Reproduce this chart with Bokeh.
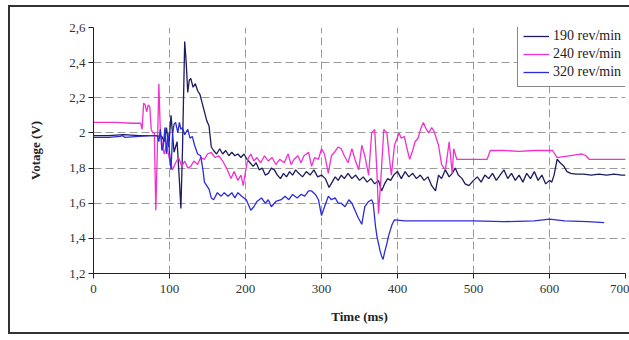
from bokeh.plotting import figure
from bokeh.models import Range1d, FixedTicker, CustomJSTickFormatter
from bokeh.embed import file_html
from bokeh.resources import INLINE

# ---- data ----
t_190 = [0, 20, 40, 60, 80, 90, 93, 96, 99, 102, 106, 110, 113, 115, 117, 120, 122, 124, 126, 128,
         131, 134, 137, 140, 143, 146, 149, 152, 155, 158, 162, 166, 170, 174, 178, 182, 186, 190,
         194, 198, 202, 206, 210, 214, 218, 222, 226, 230, 234, 238, 242, 246, 250, 254, 258, 262,
         266, 270, 275, 280, 285, 290, 295, 300, 305, 310, 314, 318, 322, 326, 330, 335, 340, 345,
         350, 355, 360, 365, 370, 375, 379, 383, 387, 391, 395, 400, 405, 410, 415, 420, 425, 430,
         435, 440, 445, 450, 454, 458, 463, 468, 472, 476, 480, 485, 489, 494, 500, 505, 510, 515,
         520, 525, 530, 535, 540, 545, 550, 555, 560, 565, 570, 575, 580, 585, 590, 595, 600, 603,
         606, 610, 614, 619, 623, 628, 635, 645, 655, 665, 675, 685, 695, 700]
v_190 = [1.985, 1.985, 1.99, 1.985, 1.985, 1.98, 1.95, 2.03, 1.92, 2.10, 1.89, 1.95, 1.73, 1.57, 1.89,
         2.52, 2.40, 2.23, 2.30, 2.31, 2.26, 2.28, 2.24, 2.22, 2.17, 2.12, 2.07, 2.04, 1.92, 1.90,
         1.88, 1.91, 1.88, 1.90, 1.87, 1.89, 1.87, 1.88, 1.86, 1.88, 1.85, 1.83, 1.81, 1.83, 1.79,
         1.80, 1.76, 1.77, 1.80, 1.79, 1.76, 1.74, 1.77, 1.75, 1.78, 1.76, 1.79, 1.77, 1.75, 1.78,
         1.76, 1.79, 1.75, 1.76, 1.74, 1.69, 1.72, 1.75, 1.73, 1.76, 1.74, 1.77, 1.74, 1.76, 1.73,
         1.75, 1.72, 1.74, 1.71, 1.73, 1.67, 1.71, 1.74, 1.73, 1.76, 1.78, 1.74, 1.78, 1.75, 1.77,
         1.74, 1.76, 1.73, 1.75, 1.70, 1.67, 1.76, 1.74, 1.79, 1.75, 1.77, 1.80, 1.76, 1.74, 1.71,
         1.70, 1.73, 1.75, 1.72, 1.76, 1.74, 1.77, 1.73, 1.76, 1.79, 1.74, 1.77, 1.73, 1.76, 1.72,
         1.77, 1.74, 1.78, 1.73, 1.76, 1.71, 1.73, 1.72, 1.76, 1.85, 1.83, 1.81, 1.78, 1.77, 1.765,
         1.765, 1.76, 1.765, 1.76, 1.765, 1.76, 1.76]

t_240 = [0, 30, 50, 62, 64, 66, 68, 70, 72, 74, 76, 78, 80, 82, 84, 86, 88, 90, 93, 96, 100, 104,
         108, 112, 116, 120, 124, 128, 132, 137, 141, 146, 150, 155, 160, 165, 170, 175, 181, 185,
         190, 194, 197, 200, 203, 207, 211, 215, 220, 225, 230, 235, 240, 245, 251, 256, 260, 264,
         269, 273, 277, 283, 287, 291, 296, 300, 304, 309, 313, 317, 322, 326, 330, 335, 340, 344,
         349, 353, 357, 362, 366, 370, 373, 375, 378, 382, 386, 390, 392, 396, 402, 405, 409, 412,
         416, 420, 423, 427, 431, 434, 438, 441, 445, 448, 451, 454, 458, 463, 468, 472, 474, 478,
         482, 500, 518, 522, 540, 560, 580, 604, 610, 618, 626, 634, 643, 648, 652, 670, 700]
v_240 = [2.06, 2.06, 2.055, 2.055, 2.02, 2.17, 2.16, 2.12, 2.16, 2.15, 2.02, 2.0, 2.0, 1.56, 1.9,
         2.28, 2.0, 1.95, 1.88, 1.93, 1.85, 1.79, 1.83, 1.86, 1.81, 1.84, 1.80, 1.81, 1.84, 1.82,
         1.86, 1.85, 1.88, 1.89, 1.86, 1.87, 1.84, 1.80, 1.74, 1.78, 1.73, 1.76, 1.70, 1.78, 1.85,
         1.88, 1.84, 1.86, 1.83, 1.87, 1.84, 1.86, 1.82, 1.85, 1.83, 1.88, 1.82, 1.85, 1.87, 1.83,
         1.87, 1.89, 1.81, 1.86, 1.85, 1.91, 1.88, 1.77, 1.87, 1.89, 1.92, 1.91, 1.87, 1.83, 1.91,
         1.85, 1.79, 1.93, 1.87, 1.76, 2.0, 2.02, 1.77, 1.54, 1.73, 2.02, 2.0, 1.83, 1.76, 1.93,
         2.0, 1.97, 1.98, 1.92, 1.85, 1.90, 1.95, 1.97, 2.03, 2.06, 2.02, 2.0, 2.03, 2.01, 1.97,
         1.93, 1.82, 1.79, 1.95, 1.77, 1.91, 1.85, 1.85, 1.85, 1.85, 1.90, 1.90, 1.895, 1.90, 1.90,
         1.86, 1.865, 1.87, 1.875, 1.88, 1.87, 1.85, 1.85, 1.85]

t_320 = [0, 20, 35, 38, 41, 60, 75, 84, 86, 88, 90, 92, 94, 96, 98, 100, 102, 104, 106, 108, 111,
         113, 115, 117, 120, 124, 127, 130, 133, 137, 141, 144, 146, 149, 152, 155, 158, 163, 168,
         172, 177, 182, 186, 190, 195, 201, 204, 207, 211, 215, 221, 226, 230, 234, 240, 247, 252,
         257, 262, 268, 273, 278, 283, 287, 292, 296, 300, 304, 309, 313, 318, 322, 326, 331, 336,
         340, 344, 348, 353, 357, 362, 366, 368, 371, 373, 375, 377, 379, 381, 383, 386, 388, 390,
         393, 396, 410, 450, 500, 540, 580, 600, 620, 650, 672]
v_320 = [1.975, 1.975, 1.98, 1.985, 1.975, 1.98, 1.985, 1.985, 1.95, 2.02, 1.90, 1.93, 2.03, 1.88,
         2.0, 1.89, 1.79, 1.99, 2.05, 2.06, 2.0, 2.06, 2.02, 2.03, 1.99, 2.02, 1.97, 1.98, 1.93,
         1.88, 1.87, 1.79, 1.72, 1.70, 1.68, 1.63, 1.62, 1.66, 1.64, 1.66, 1.64, 1.66, 1.63, 1.66,
         1.64, 1.62, 1.59, 1.56, 1.58, 1.61, 1.63, 1.60, 1.62, 1.58, 1.61, 1.62, 1.64, 1.62, 1.65,
         1.63, 1.65, 1.64, 1.67, 1.67, 1.65, 1.62, 1.53, 1.58, 1.64, 1.62, 1.63, 1.60, 1.60, 1.58,
         1.62, 1.60, 1.56, 1.52, 1.48, 1.58, 1.61, 1.62, 1.60, 1.47, 1.41, 1.37, 1.33, 1.30, 1.28,
         1.32, 1.37, 1.41, 1.44, 1.48, 1.505, 1.50, 1.50, 1.50, 1.495, 1.50, 1.51, 1.50, 1.495, 1.49]

x_ticks = [0, 100, 200, 300, 400, 500, 600, 700]
y_ticks = [1.2, 1.4, 1.6, 1.8, 2.0, 2.2, 2.4, 2.6]
labels = ["190 rev/min", "240 rev/min", "320 rev/min"]
colors = ["#1c1c5e", "#f030d0", "#2c2cd8"]

SERIF = "Times New Roman"

p = figure(width=621, height=329, output_backend="svg", toolbar_location=None,
           x_range=Range1d(0, 700), y_range=Range1d(1.2, 2.6),
           min_border_left=83, min_border_right=6, min_border_top=20, min_border_bottom=63)
p.styles = {"margin-left": "8px", "margin-top": "5px",
            "border-left": "2px solid #333", "border-top": "2px solid #333",
            "border-bottom": "2px solid #333"}
p.outline_line_color = None
p.background_fill_color = "white"
p.border_fill_color = "white"

for t, v, lab, c in zip([t_190, t_240, t_320], [v_190, v_240, v_320], labels, colors):
    p.line(t, v, line_color=c, line_width=1.3, legend_label=lab)

p.xaxis.ticker = FixedTicker(ticks=x_ticks)
p.yaxis.ticker = FixedTicker(ticks=y_ticks)
p.yaxis.formatter = CustomJSTickFormatter(
    code="var s = Number(tick.toFixed(1)).toString(); return s.replace('.', ',');")

for ax in (p.xaxis[0], p.yaxis[0]):
    ax.axis_line_color = "#222"
    ax.axis_line_width = 1
    ax.major_tick_line_color = "#222"
    ax.major_tick_in = 0
    ax.major_tick_out = 5
    ax.minor_tick_line_color = None
    ax.major_label_text_font = SERIF
    ax.major_label_text_font_size = "13px"
    ax.major_label_text_color = "#333"
    ax.axis_label_text_font = SERIF
    ax.axis_label_text_font_size = "13px"
    ax.axis_label_text_font_style = "bold"
    ax.axis_label_text_color = "#222"

p.xaxis.axis_label = "Time (ms)"
p.yaxis.axis_label = "Votage (V)"
p.xaxis.major_label_standoff = 6
p.xaxis.axis_label_standoff = 13
p.yaxis.major_label_standoff = 3
p.yaxis.axis_label_standoff = 23

p.xgrid.grid_line_color = "#9a9a9a"
p.ygrid.grid_line_color = "#9a9a9a"
p.xgrid.grid_line_dash = "8 4"
p.ygrid.grid_line_dash = "8 4"
p.xgrid.grid_line_width = 1
p.ygrid.grid_line_width = 1

lg = p.legend[0]
lg.location = (424, 186)
lg.border_line_color = "#111"
lg.border_line_width = 1
lg.background_fill_color = "white"
lg.background_fill_alpha = 1
lg.label_text_font = SERIF
lg.label_text_font_size = "14px"
lg.label_text_color = "#222"
lg.glyph_width = 26
lg.glyph_height = 18
lg.label_height = 18
lg.label_standoff = 4
lg.spacing = 0
lg.padding = 5
lg.margin = 0

open("out.html", "w").write(file_html(p, INLINE))
